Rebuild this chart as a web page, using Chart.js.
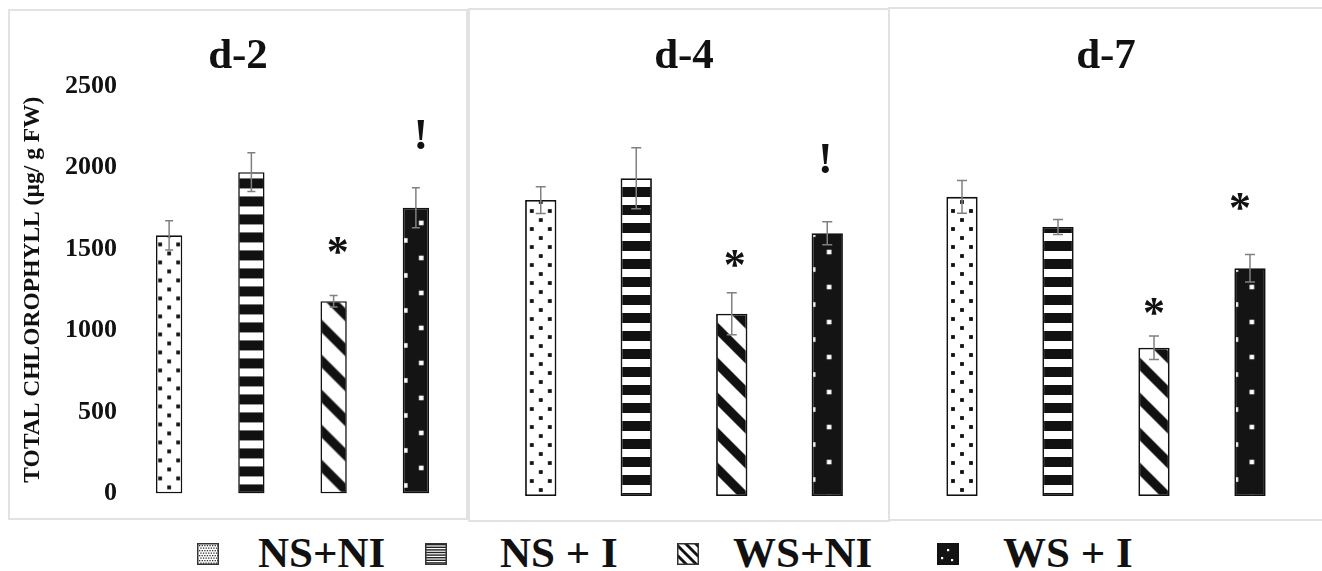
<!DOCTYPE html>
<html>
<head>
<meta charset="utf-8">
<script src="https://cdn.jsdelivr.net/npm/chart.js@4.4.1/dist/chart.umd.min.js"></script>
<style>
html,body{margin:0;padding:0;background:#fff;}
body{width:1322px;height:571px;position:relative;overflow:hidden;font-family:"Liberation Serif","Times New Roman",serif;}
.panel{position:absolute;border:2px solid #e2e2e2;box-sizing:border-box;}
canvas.c{position:absolute;}
.sw{position:absolute;top:543px;width:22px;height:22px;}
.lt{position:absolute;top:531px;font-family:"Liberation Serif","Times New Roman",serif;font-weight:bold;font-size:43px;line-height:43px;color:#111;white-space:pre;}
</style>
</head>
<body>
<div class="panel" style="left:8px;top:9px;width:460px;height:511px"></div>
<div class="panel" style="left:468px;top:8px;width:422px;height:514px"></div>
<div class="panel" style="left:888px;top:7px;width:440px;height:514px"></div>

<canvas class="c" id="c1" width="458" height="510" style="left:9px;top:10px"></canvas>
<canvas class="c" id="c2" width="420" height="512" style="left:469px;top:9px"></canvas>
<canvas class="c" id="c3" width="433" height="513" style="left:889px;top:8px"></canvas>

<canvas class="sw" id="sw0" width="22" height="22" style="left:197px"></canvas>
<div class="lt" id="lt0" style="left:258px"></div>
<canvas class="sw" id="sw1" width="22" height="22" style="left:425px"></canvas>
<div class="lt" id="lt1" style="left:500px"></div>
<canvas class="sw" id="sw2" width="22" height="22" style="left:677px"></canvas>
<div class="lt" id="lt2" style="left:733px"></div>
<canvas class="sw" id="sw3" width="22" height="22" style="left:937px"></canvas>
<div class="lt" id="lt3" style="left:1003px"></div>

<script>
// ---------------- DATA ----------------
const categories = ['NS+NI', 'NS + I', 'WS+NI', 'WS + I'];
const days = ['d-2', 'd-4', 'd-7'];
const d2Values = [1583, 1970, 1179, 1752];
const d2Errors = [90, 119, 35, 123];
const d4Values = [1765, 1895, 1087, 1567];
const d4Errors = [80, 182, 125, 68];
const d7Values = [1784, 1604, 884, 1358];
const d7Errors = [98, 45, 70, 82];
const d2Marks = ['', '', '*', '!'];
const d4Marks = ['', '', '*', '!'];
const d7Marks = ['', '', '*', '*'];
const yTicks = [0, 500, 1000, 1500, 2000, 2500];
const yTitle = 'TOTAL CHLOROPHYLL (µg/ g FW)';

// ---------------- STYLE ----------------
const FONT = '"Liberation Serif", "Times New Roman", serif';
const panelStyles = [
  {id:'c1', padL:10, padR:10, padT:29.4, padB:15, titlePadB:12, showY:true, yWidth:109, barFrac:0.32, bw:1.6, cap:4,
   stripeB:9, bdPhase:8, bdDx:1, markGap:[0,0,50,53], markDx:[0,0,4,5]},
  {id:'c2', padL:24, padR:14, padT:30.4, padB:25, titlePadB:3, showY:false, yWidth:0, barFrac:0.328, bw:1.8, cap:5,
   stripeB:3, bdPhase:16.5, bdDx:0, markGap:[0,0,34,63], markDx:[0,0,3,-2]},
  {id:'c3', padL:25, padR:24, padT:31.4, padB:25, titlePadB:3, showY:false, yWidth:0, barFrac:0.326, bw:1.8, cap:5,
   stripeB:3, bdPhase:16.5, bdDx:0, markGap:[0,0,30,53], markDx:[0,0,0,-10]}
];

// ---------------- PATTERN TILES ----------------
function tile(w, h, draw) {
  const c = document.createElement('canvas');
  c.width = w; c.height = h;
  draw(c.getContext('2d'), w, h);
  return c;
}
const tiles = {
  dots: tile(18, 18, (g, w, h) => {
    g.fillStyle = '#fff'; g.fillRect(0, 0, w, h);
    g.fillStyle = '#111';
    const s = 3.8, hs = s / 2;
    [[0,0],[18,0],[0,18],[18,18],[9,9]].forEach(([x,y]) => g.fillRect(x - hs, y - hs, s, s));
  }),
  hstripes: tile(4, 18, (g, w, h) => {
    g.fillStyle = '#fff'; g.fillRect(0, 0, w, h);
    g.fillStyle = '#111'; g.fillRect(0, 0, w, 10);
  }),
  diag: tile(35, 35, (g, w, h) => {
    g.fillStyle = '#fff'; g.fillRect(0, 0, w, h);
    g.fillStyle = '#111';
    for (let k = -2; k <= 1; k++) {
      g.beginPath();
      g.moveTo(0, k * 35); g.lineTo(35, 35 + k * 35);
      g.lineTo(35, 35 + k * 35 + 13); g.lineTo(0, k * 35 + 13);
      g.closePath(); g.fill();
    }
  }),
  blackdots: tile(32, 35, (g, w, h) => {
    g.fillStyle = '#141414'; g.fillRect(0, 0, w, h);
    g.fillStyle = '#fff';
    const s = 4.6, hs = s / 2;
    [[17.5,0],[17.5,35],[1.5,17.5],[33.5,17.5]].forEach(([x,y]) => g.fillRect(x - hs, y - hs, s, s));
  })
};
const fillTypes = ['dots', 'hstripes', 'diag', 'blackdots'];

// ---------------- PANELS ----------------
function buildPanel(idx, values, errors, marks) {
  const st = panelStyles[idx];
  const canvas = document.getElementById(st.id);
  const g2 = canvas.getContext('2d');

  const geom = (chart, i) => {
    const ca = chart.chartArea;
    const cw = (ca.right - ca.left) / categories.length;
    const w = cw * st.barFrac;
    const cx = chart.scales.x.getPixelForValue(i);
    return {cx, w, left: cx - w / 2, bottom: chart.scales.y.getPixelForValue(0)};
  };

  const fill = (c) => {
    if (c.type !== 'data' || !c.chart.chartArea || !c.chart.scales.x) return '#111';
    const i = c.dataIndex;
    const {cx, left, bottom} = geom(c.chart, i);
    const type = fillTypes[i];
    const p = g2.createPattern(tiles[type], 'repeat');
    let tx = left, ty = bottom;
    if (type === 'dots') { tx = cx - 9; ty = bottom - 6 - 9; }
    else if (type === 'hstripes') { ty = bottom - st.stripeB; }
    else if (type === 'blackdots') { tx = left + st.bdDx; ty = bottom - st.bdPhase - 17.5; }
    p.setTransform(new DOMMatrix([1, 0, 0, 1, tx, ty]));
    return p;
  };

  const extras = {
    id: 'extras' + idx,
    afterDatasetsDraw(chart) {
      const ctx = chart.ctx, ys = chart.scales.y;
      ctx.save();
      ctx.strokeStyle = '#808080';
      ctx.lineWidth = 1.5;
      values.forEach((v, i) => {
        const {cx} = geom(chart, i);
        const yt = ys.getPixelForValue(v + errors[i]);
        const yb = ys.getPixelForValue(v - errors[i]);
        ctx.beginPath();
        ctx.moveTo(cx, yt); ctx.lineTo(cx, yb);
        ctx.moveTo(cx - st.cap, yt); ctx.lineTo(cx + st.cap, yt);
        ctx.moveTo(cx - st.cap, yb); ctx.lineTo(cx + st.cap, yb);
        ctx.stroke();
      });
      ctx.fillStyle = '#111';
      ctx.font = 'bold 44px ' + FONT;
      ctx.textAlign = 'center';
      ctx.textBaseline = 'alphabetic';
      marks.forEach((m, i) => {
        if (!m) return;
        const {cx} = geom(chart, i);
        const yt = ys.getPixelForValue(values[i] + errors[i]);
        const target = yt - st.markGap[i];
        const mt = ctx.measureText(m);
        const base = target + (mt.actualBoundingBoxAscent - mt.actualBoundingBoxDescent) / 2;
        ctx.fillText(m, cx + st.markDx[i], base);
      });
      ctx.restore();
    }
  };

  return new Chart(canvas, {
    type: 'bar',
    data: {
      labels: categories,
      datasets: [{
        data: values,
        backgroundColor: fill,
        borderColor: '#111',
        borderWidth: st.bw,
        borderSkipped: false,
        categoryPercentage: 1,
        barPercentage: st.barFrac
      }]
    },
    options: {
      responsive: false,
      animation: false,
      events: [],
      layout: {padding: {left: st.padL, right: st.padR, top: st.padT, bottom: st.padB}},
      plugins: {
        legend: {display: false},
        tooltip: {enabled: false},
        title: {
          display: true, text: days[idx], color: '#111',
          font: {family: FONT, size: 43, weight: 'bold', lineHeight: 0.8},
          padding: {top: 0, bottom: st.titlePadB}
        }
      },
      scales: {
        x: {display: false, grid: {display: false}},
        y: {
          display: st.showY,
          min: 0, max: 2500,
          afterBuildTicks: (s) => { s.ticks = yTicks.map(v => ({value: v})); },
          afterFit: (s) => { if (st.showY) s.width = st.yWidth; },
          grid: {display: false, drawTicks: false},
          border: {display: false},
          ticks: {
            color: '#111', font: {family: FONT, size: 26, weight: 'bold'}, padding: 11,
            callback: (v) => String(v)
          },
          title: {
            display: true, text: yTitle, color: '#111',
            font: {family: FONT, size: 23.5, weight: 'bold'},
            padding: {top: 0, bottom: 0}
          }
        }
      }
    },
    plugins: [extras]
  });
}

buildPanel(0, d2Values, d2Errors, d2Marks);
buildPanel(1, d4Values, d4Errors, d4Marks);
buildPanel(2, d7Values, d7Errors, d7Marks);

// ---------------- LEGEND ----------------
const swatchDraw = [
  (g) => {
    g.fillStyle = '#fff'; g.fillRect(0, 0, 22, 22);
    g.fillStyle = '#333';
    for (let r = 0; r < 8; r++) for (let c = 0; c < 8; c++) {
      const x = 2 + c * 2.6 + (r % 2) * 1.3, y = 2 + r * 2.5;
      if (x < 20.5) g.fillRect(x, y, 1.3, 1.3);
    }
  },
  (g) => {
    g.fillStyle = '#fff'; g.fillRect(0, 0, 22, 22);
    g.fillStyle = '#222';
    for (let y = 1; y < 21; y += 2.6) g.fillRect(0, y, 22, 1.4);
  },
  (g) => {
    g.fillStyle = '#fff'; g.fillRect(0, 0, 22, 22);
    g.fillStyle = '#111';
    for (let k = -2; k <= 1; k++) {
      const o = k * 10;
      g.beginPath();
      g.moveTo(0, o); g.lineTo(22, o + 22); g.lineTo(22, o + 26); g.lineTo(0, o + 4);
      g.closePath(); g.fill();
    }
  },
  (g) => {
    g.fillStyle = '#141414'; g.fillRect(0, 0, 22, 22);
    g.fillStyle = '#fff';
    [[10, 6], [4, 14], [14, 16]].forEach(([x, y]) => g.fillRect(x, y, 2.2, 2.2));
  }
];
categories.forEach((name, i) => {
  const g = document.getElementById('sw' + i).getContext('2d');
  swatchDraw[i](g);
  g.strokeStyle = i === 3 ? '#111' : '#333';
  g.lineWidth = 1.5;
  g.strokeRect(0.75, 0.75, 20.5, 20.5);
  document.getElementById('lt' + i).textContent = name;
});
</script>
</body>
</html>
